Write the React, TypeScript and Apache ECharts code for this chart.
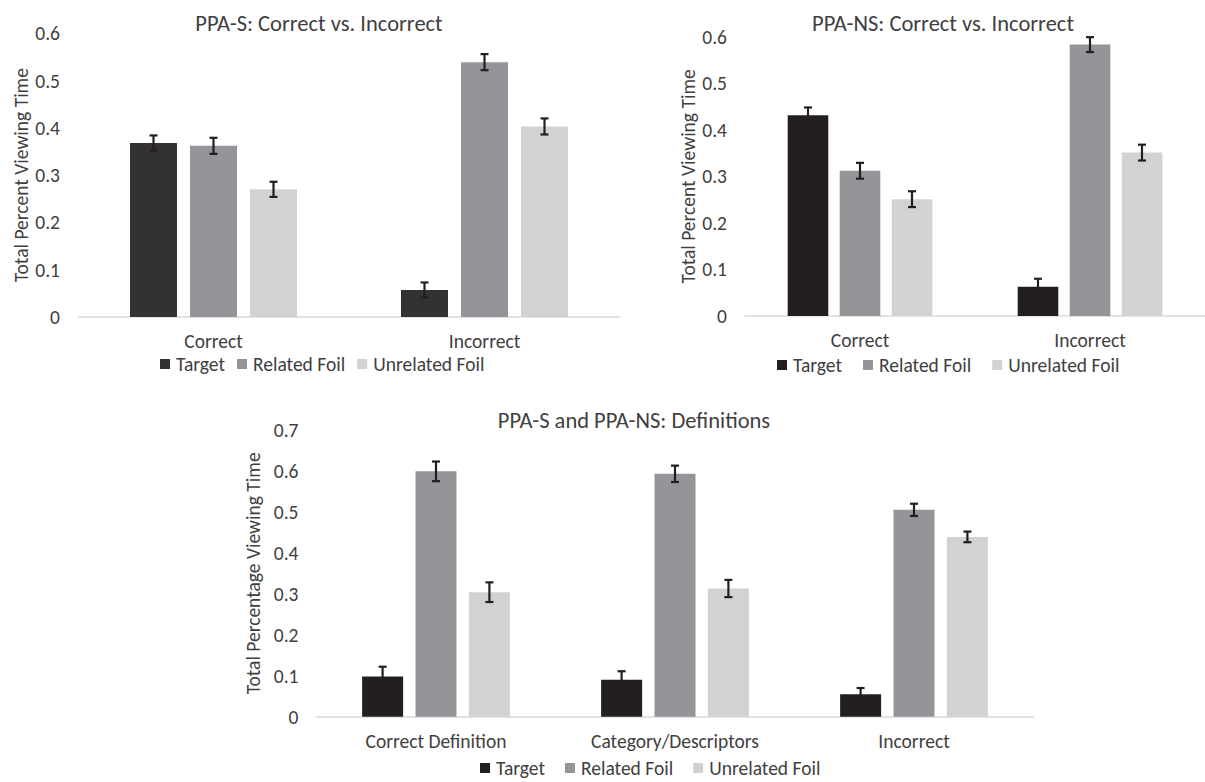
import React, { useEffect, useRef } from "react";
import * as echarts from "echarts";

// ---------- Data ----------
const seriesNames = ["Target", "Related Foil", "Unrelated Foil"];

// Chart 1: PPA-S
const cats1 = ["Correct", "Incorrect"];
const s1Target = [0.368, 0.057];
const s1Related = [0.362, 0.539];
const s1Unrelated = [0.27, 0.403];
const s1TargetErr = [0.016, 0.016];
const s1RelatedErr = [0.017, 0.017];
const s1UnrelatedErr = [0.016, 0.017];

// Chart 2: PPA-NS
const cats2 = ["Correct", "Incorrect"];
const s2Target = [0.431, 0.063];
const s2Related = [0.312, 0.583];
const s2Unrelated = [0.251, 0.351];
const s2TargetErr = [0.017, 0.017];
const s2RelatedErr = [0.017, 0.016];
const s2UnrelatedErr = [0.017, 0.017];

// Chart 3: Definitions
const cats3 = ["Correct Definition", "Category/Descriptors", "Incorrect"];
const s3Target = [0.098, 0.09, 0.055];
const s3Related = [0.599, 0.593, 0.505];
const s3Unrelated = [0.304, 0.313, 0.439];
const s3TargetErr = [0.024, 0.021, 0.015];
const s3RelatedErr = [0.024, 0.02, 0.015];
const s3UnrelatedErr = [0.024, 0.021, 0.013];

const titles = [
  "PPA-S: Correct vs. Incorrect",
  "PPA-NS: Correct vs. Incorrect",
  "PPA-S and PPA-NS: Definitions",
];
const yNames = [
  "Total Percent Viewing Time",
  "Total Percent Viewing Time",
  "Total Percentage Viewing Time",
];

// ---------- Styles ----------
const FONT = 'Carlito, Lato, "Open Sans", sans-serif';
const TEXT = "#404040";
const ERR = "#231f20";
const FS = 19.5;
const TFS = 22.5;
const colors = [
  ["#333132", "#939598", "#d1d2d4"],
  ["#231f20", "#939598", "#d1d2d4"],
  ["#231f20", "#939598", "#d1d2d4"],
];

const charts = [
  {
    cats: cats1,
    vals: [s1Target, s1Related, s1Unrelated],
    errs: [s1TargetErr, s1RelatedErr, s1UnrelatedErr],
    grid: { left: 78, right: 585, top: 33.3, bottom: 465 },
    max: 0.6,
    barWidth: 47,
    gap: 13,
    nameGap: 47,
    title: { x: 319, y: 23 },
    legend: { left: 160, top: 354, itemGap: 12 },
  },
  {
    cats: cats2,
    vals: [s2Target, s2Related, s2Unrelated],
    errs: [s2TargetErr, s2RelatedErr, s2UnrelatedErr],
    grid: { left: 745, right: -13, top: 36.7, bottom: 466 },
    max: 0.6,
    barWidth: 40.6,
    gap: 11.4,
    nameGap: 47,
    title: { x: 943, y: 23 },
    legend: { left: 777, top: 355, itemGap: 21 },
  },
  {
    cats: cats3,
    vals: [s3Target, s3Related, s3Unrelated],
    errs: [s3TargetErr, s3RelatedErr, s3UnrelatedErr],
    grid: { left: 316.5, right: 171.5, top: 430, bottom: 65.3 },
    max: 0.7,
    barWidth: 41,
    gap: 12.4,
    nameGap: 46,
    title: { x: 634, y: 420 },
    legend: { left: 480, top: 758, itemGap: 20 },
  },
];

function buildOption() {
  const grid: any[] = [];
  const xAxis: any[] = [];
  const yAxis: any[] = [];
  const series: any[] = [];
  const title: any[] = [];
  const legend: any[] = [];

  charts.forEach((c, ci) => {
    grid.push({ ...c.grid, containLabel: false });
    xAxis.push({
      type: "category",
      gridIndex: ci,
      data: c.cats,
      axisLine: { lineStyle: { color: "#d9d9d9", width: 1.5 } },
      axisTick: { show: false },
      axisLabel: { color: TEXT, fontSize: FS, fontFamily: FONT, margin: 14, interval: 0 },
    });
    yAxis.push({
      type: "value",
      gridIndex: ci,
      min: 0,
      max: c.max,
      interval: 0.1,
      axisLine: { show: false },
      axisTick: { show: false },
      splitLine: { show: false },
      axisLabel: { color: TEXT, fontSize: FS, fontFamily: FONT, margin: 18 },
      name: yNames[ci],
      nameLocation: "middle",
      nameGap: c.nameGap,
      nameTextStyle: { color: TEXT, fontSize: FS, fontFamily: FONT },
    });
    title.push({
      text: titles[ci],
      left: c.title.x,
      top: c.title.y,
      textAlign: "center",
      textVerticalAlign: "middle",
      padding: 0,
      textStyle: { color: TEXT, fontSize: TFS, fontWeight: "normal", fontFamily: FONT },
    });
    legend.push({
      left: c.legend.left,
      top: c.legend.top,
      padding: 0,
      itemGap: c.legend.itemGap,
      itemWidth: 10,
      itemHeight: 10,
      icon: "rect",
      selectedMode: false,
      textStyle: { color: TEXT, fontSize: FS, fontFamily: FONT, padding: [0, 0, 0, 1] },
      data: seriesNames.map((n, k) => ({ name: n, itemStyle: { color: colors[ci][k] } })),
    });

    const gapPct = ((c.gap / c.barWidth) * 100).toFixed(1) + "%";
    seriesNames.forEach((n, k) => {
      series.push({
        type: "bar",
        name: n,
        xAxisIndex: ci,
        yAxisIndex: ci,
        data: c.vals[k],
        barWidth: c.barWidth,
        barGap: gapPct,
        itemStyle: { color: colors[ci][k] },
        z: 2,
      });
    });

    const errData: number[][] = [];
    c.vals.forEach((vals, k) => {
      vals.forEach((v, i) => {
        errData.push([i, k, v - c.errs[k][i], v + c.errs[k][i]]);
      });
    });
    const step = c.barWidth + c.gap;
    series.push({
      type: "custom",
      xAxisIndex: ci,
      yAxisIndex: ci,
      data: errData,
      encode: { x: 0, y: [2, 3] },
      z: 5,
      silent: true,
      renderItem: (params: any, api: any) => {
        const x = api.value(0);
        const k = api.value(1);
        const lo = api.coord([x, api.value(2)]);
        const hi = api.coord([x, api.value(3)]);
        const cx = lo[0] + (k - 1) * step;
        const cap = 4;
        const style = { stroke: ERR, lineWidth: 2.2 };
        return {
          type: "group",
          children: [
            { type: "line", shape: { x1: cx, y1: hi[1], x2: cx, y2: lo[1] }, style },
            { type: "line", shape: { x1: cx - cap, y1: hi[1], x2: cx + cap, y2: hi[1] }, style },
            { type: "line", shape: { x1: cx - cap, y1: lo[1], x2: cx + cap, y2: lo[1] }, style },
          ],
        };
      },
    });
  });

  return {
    animation: false,
    backgroundColor: "#ffffff",
    textStyle: { fontFamily: FONT },
    title,
    legend,
    grid,
    xAxis,
    yAxis,
    series,
  };
}

export default function App() {
  const ref = useRef<HTMLDivElement>(null);
  useEffect(() => {
    if (!ref.current) return;
    const chart = echarts.init(ref.current, undefined, { renderer: "svg" });
    chart.setOption(buildOption() as any);
    return () => chart.dispose();
  }, []);
  return (
    <div
      ref={ref}
      style={{ position: "fixed", left: 0, top: 0, width: 1205, height: 782, background: "#fff" }}
    />
  );
}
